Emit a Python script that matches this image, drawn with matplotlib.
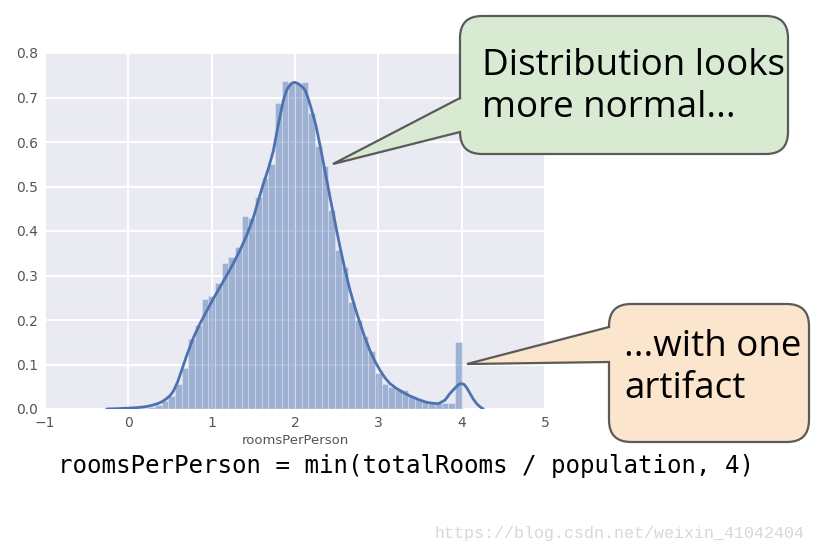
import matplotlib
matplotlib.use("Agg")
import matplotlib.pyplot as plt
from matplotlib.patches import FancyBboxPatch, Polygon

# ---------------- data ----------------
bin_edges_start = 0.0
bin_width = 0.08
hist_heights = [0.001, 0.002, 0.002, 0.004, 0.008, 0.019, 0.030, 0.057, 0.093, 0.158,
                0.188, 0.248, 0.255, 0.283, 0.327, 0.341, 0.363, 0.433, 0.430, 0.477,
                0.520, 0.550, 0.688, 0.738, 0.735, 0.732, 0.735, 0.665, 0.590, 0.545,
                0.447, 0.357, 0.319, 0.240, 0.200, 0.165, 0.131, 0.080, 0.057, 0.049,
                0.045, 0.042, 0.030, 0.022, 0.018, 0.016, 0.014, 0.014, 0.013, 0.150]

kde_x = [-0.26, -0.1, 0.0, 0.1, 0.2, 0.28, 0.35, 0.4, 0.45, 0.5, 0.54, 0.59, 0.64,
         0.7, 0.78, 0.86, 0.94, 1.02, 1.1, 1.18, 1.26, 1.34, 1.42, 1.5, 1.61, 1.68,
         1.74, 1.8, 1.86, 1.9, 1.94, 1.97, 2.0, 2.04, 2.08, 2.12, 2.16, 2.2, 2.25,
         2.3, 2.36, 2.42, 2.48, 2.54, 2.6, 2.66, 2.72, 2.78, 2.84, 2.9, 2.96, 3.02,
         3.08, 3.14, 3.22, 3.3, 3.36, 3.42, 3.5, 3.58, 3.65, 3.72, 3.8, 3.86, 3.93,
         3.97, 4.0, 4.03, 4.06, 4.1, 4.14, 4.18, 4.22, 4.26]
kde_y = [0.0, 0.001, 0.002, 0.003, 0.005, 0.008, 0.012, 0.016, 0.022, 0.030, 0.040,
         0.060, 0.087, 0.120, 0.160, 0.192, 0.220, 0.248, 0.274, 0.300, 0.327, 0.357,
         0.390, 0.430, 0.500, 0.540, 0.580, 0.640, 0.693, 0.717, 0.728, 0.733, 0.734,
         0.731, 0.725, 0.717, 0.697, 0.672, 0.638, 0.593, 0.535, 0.476, 0.420, 0.364,
         0.313, 0.267, 0.228, 0.193, 0.160, 0.131, 0.107, 0.087, 0.070, 0.057, 0.046,
         0.037, 0.031, 0.026, 0.020, 0.015, 0.013, 0.012, 0.020, 0.035, 0.049, 0.056,
         0.057, 0.055, 0.048, 0.035, 0.022, 0.012, 0.005, 0.0]

x_ticks = [-1, 0, 1, 2, 3, 4, 5]
y_ticks = [0.0, 0.1, 0.2, 0.3, 0.4, 0.5, 0.6, 0.7, 0.8]
x_label = "roomsPerPerson"
callout1 = ["Distribution looks", "more normal..."]
callout2 = ["...with one", "artifact"]
formula = "roomsPerPerson = min(totalRooms / population, 4)"
watermark = "https://blog.csdn.net/weixin_41042404"

# ---------------- figure ----------------
W, H = 815, 554
fig = plt.figure(figsize=(W / 100, H / 100), dpi=100)
fig.patch.set_facecolor("white")

ax = fig.add_axes([45 / W, 1 - 409 / H, 500 / W, 356 / H])
ax.set_facecolor("#EAEAF2")
for s in ax.spines.values():
    s.set_visible(False)
ax.grid(True, color="white", linewidth=1.4)
ax.set_axisbelow(True)

blue = "#4C72B0"
lefts = [bin_edges_start + i * bin_width for i in range(len(hist_heights))]
ax.bar(lefts, hist_heights, width=bin_width, align="edge", color=blue, alpha=0.47,
       edgecolor="white", linewidth=0.4, zorder=2)
ax.plot(kde_x, kde_y, color=blue, linewidth=2.0, zorder=3,
        solid_capstyle="round", solid_joinstyle="round")

ax.set_xlim(-1, 5)
ax.set_ylim(0, 0.8)
ax.set_xticks(x_ticks)
ax.set_xticklabels(["\u22121" if v < 0 else str(v) for v in x_ticks])
ax.set_yticks(y_ticks)
ax.set_yticklabels(["%.1f" % v for v in y_ticks])
ax.tick_params(length=0, labelsize=10, colors="#555555", pad=5)
ax.set_xlabel(x_label, fontsize=9.5, color="#555555", labelpad=3)

# ---------------- overlay (pixel coordinates) ----------------
ov = fig.add_axes([0, 0, 1, 1], zorder=10)
ov.set_xlim(0, W)
ov.set_ylim(H, 0)
ov.axis("off")
ov.patch.set_alpha(0)

edge = "#5a5a5a"

def callout(x0, y0, x1, y1, tip, base_a, base_b, fc):
    box = FancyBboxPatch((x0, y0), x1 - x0, y1 - y0,
                         boxstyle="round,pad=0,rounding_size=22",
                         facecolor=fc, edgecolor=edge, linewidth=1.6, zorder=1)
    ov.add_patch(box)
    cover = Polygon([tip, (base_a[0] + 3, base_a[1]), (base_b[0] + 3, base_b[1])],
                    closed=True, facecolor=fc, edgecolor="none", zorder=2)
    ov.add_patch(cover)
    ov.plot([base_a[0], tip[0], base_b[0]], [base_a[1], tip[1], base_b[1]],
            color=edge, linewidth=1.6, zorder=3, solid_joinstyle="miter")

callout(460, 16, 788, 154, (333, 164), (460, 98), (460, 132), "#D9EAD3")
callout(609, 304, 809, 442, (467, 364), (609, 327), (609, 362), "#FCE5CD")

cfont = ["Open Sans", "DejaVu Sans"]
for txt, (x, y) in zip(callout1 + callout2, [(482, 75), (482, 117), (624, 356), (624, 398)]):
    ov.text(x, y, txt, fontsize=26.5, family=cfont, va="baseline", ha="left",
            color="black", zorder=5)

ov.text(58, 473, formula, fontsize=17.4, family="DejaVu Sans Mono", va="baseline",
        ha="left", color="black")
ov.text(435, 538, watermark, fontsize=12, family="Liberation Mono", va="baseline",
        ha="left", color="#d8d8d8")

fig.savefig("out.png", dpi=100)
